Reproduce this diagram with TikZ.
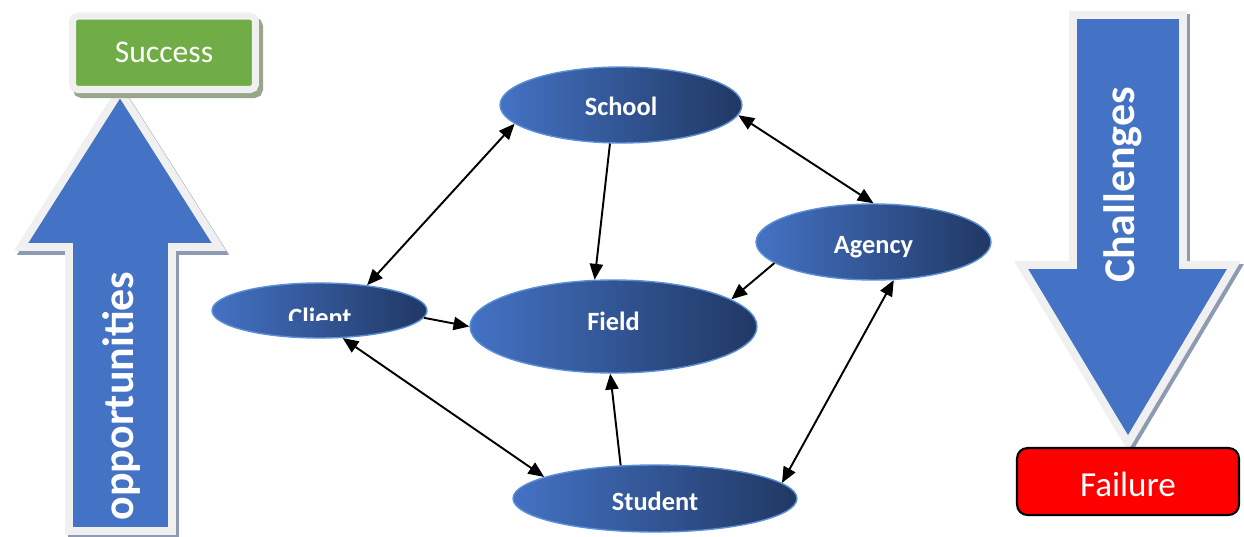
\documentclass[tikz,border=0pt]{standalone}
\usepackage{fontspec}
\setmainfont{Carlito}
\usetikzlibrary{arrows.meta, shapes.geometric}

\definecolor{arrowblue}{HTML}{4472C4}
\definecolor{navy}{HTML}{203864}
\definecolor{rimgrey}{HTML}{F0F0F0}
\definecolor{shadeblue}{HTML}{8D9AB2}
\definecolor{shadegreen}{HTML}{98A68B}
\definecolor{okgreen}{HTML}{70AD47}
\definecolor{edgeblue}{HTML}{5B8FD6}

\begin{document}
\begin{tikzpicture}[x=0.02cm, y=-0.02cm, >={Triangle[length=9pt,width=7.5pt]},
  actor/.style={ellipse, left color=arrowblue, right color=navy, draw=edgeblue, line width=0.8pt, inner sep=0pt, text=white, text height=12pt, text depth=0pt, font=\fontsize{15}{18}\selectfont\bfseries},
  link/.style={->, line width=1.1pt},
  both/.style={<->, line width=1.1pt},
  bigarrow/.style={fill=arrowblue, draw=rimgrey, line width=4.5pt},
  arrowshade/.style={fill=shadeblue, draw=shadeblue, line width=4.5pt},
  sidetext/.style={rotate=90, text=white, font=\fontsize{25}{29}\selectfont\bfseries}]
\useasboundingbox (0,0) rectangle (1244,537);

% up arrow: opportunities -> success
\path[arrowshade, shift={(3,4)}] (120,91) -- (219,247) -- (172,247) -- (172,531) -- (69,531) -- (69,247) -- (21,247) -- cycle;
\path[bigarrow] (120,91) -- (219,247) -- (172,247) -- (172,531) -- (69,531) -- (69,247) -- (21,247) -- cycle;
\node[sidetext] (opplabel) at (122,396) {opportunities};

% success box with its shadow
\draw[shadegreen, fill=shadegreen, line width=4pt, rounded corners=3pt] (76.5,21) rectangle (259.5,94.5);
\node[rectangle, rounded corners=3pt, fill=okgreen, draw=rimgrey, line width=4pt, minimum width=3.66cm, minimum height=1.47cm, text=white, font=\fontsize{18}{22}\selectfont] (success) at (164,52.75) {Success};

% down arrow: challenges -> failure
\path[arrowshade, shift={(3,3)}] (1073,15) -- (1183,15) -- (1183,265) -- (1234,265) -- (1128,443) -- (1021,265) -- (1073,265) -- cycle;
\path[bigarrow] (1073,15) -- (1183,15) -- (1183,265) -- (1234,265) -- (1128,443) -- (1021,265) -- (1073,265) -- cycle;
\node[sidetext] (challabel) at (1123,185) {Challenges};

\node[rectangle, rounded corners=6pt, fill=red, draw=black, line width=1.2pt, minimum width=4.44cm, minimum height=1.34cm, text=white, text height=17.5pt, text depth=0pt, font=\fontsize{20}{24}\selectfont] (failure) at (1128,481.5) {Failure};

% the actors
\node[actor, minimum width=4.84cm, minimum height=1.52cm] (school) at (621,105) {School};
\node[actor, minimum width=4.7cm, minimum height=1.52cm, text height=13pt] (agency) at (873.5,242) {Agency};
\node[actor, minimum width=5.74cm, minimum height=1.86cm, text height=4.6pt] (field) at (613.5,326.5) {Field};
\node[actor, minimum width=4.3cm, minimum height=1.1cm] (client) at (319.5,310.5) {};
\node[actor, minimum width=5.68cm, minimum height=1.34cm, text height=14.2pt] (student) at (655,498.5) {Student};
\begin{scope}
  \clip (200,270) rectangle (440,320);
  \node[anchor=base, text=white, font=\fontsize{15}{18}\selectfont\bfseries] (clientname) at (320,326) {Client};
\end{scope}

% links between them
\draw[both] (school.190) -- (client.28);
\draw[link] (school.254) -- (field.112);
\draw[both] (school.355) -- (agency.90);
\draw[link] (agency.192) -- (field.13);
\draw[link] (client.356) -- (field.180);
\draw[both] (client.310) -- (student.169);
\draw[link] (student.136) -- (field.266);
\draw[both] (agency.298) -- (student.7.5);
\end{tikzpicture}
\end{document}
